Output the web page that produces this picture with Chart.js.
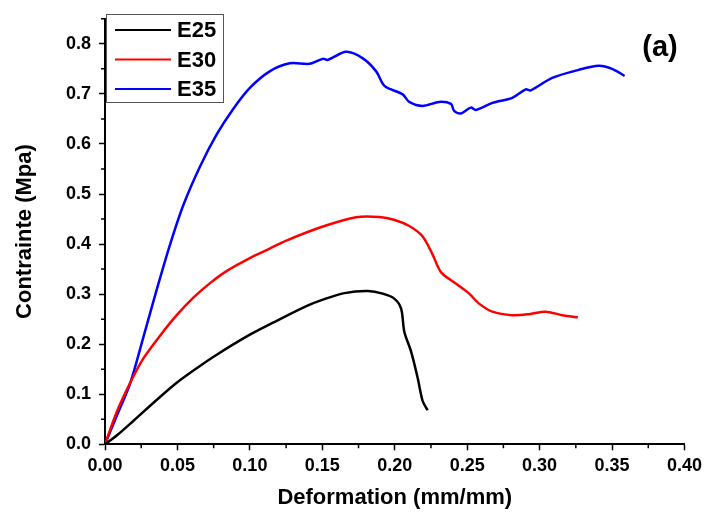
<!DOCTYPE html>
<html>
<head>
<meta charset="utf-8">
<script src="https://cdn.jsdelivr.net/npm/chart.js@4"></script>
<style>
  body { margin: 0; background: #fff; }
</style>
</head>
<body>
<canvas id="myChart" width="707" height="515"></canvas>
<script>
// tick labels
var xTicks = [0, 0.05, 0.10, 0.15, 0.20, 0.25, 0.30, 0.35, 0.40];
var yTicks = [0, 0.1, 0.2, 0.3, 0.4, 0.5, 0.6, 0.7, 0.8];

// E25 curve
var e25X = [0, 0.0083, 0.0197, 0.0358, 0.0495, 0.0633, 0.0771, 0.100, 0.116, 0.139, 0.1504, 0.1653, 0.1814, 0.1917, 0.1997, 0.2044, 0.2066, 0.2112, 0.2158, 0.2192, 0.2227];
var e25Y = [0, 0.018, 0.047, 0.089, 0.123, 0.152, 0.179, 0.219, 0.243, 0.276, 0.289, 0.302, 0.306, 0.301, 0.291, 0.271, 0.225, 0.186, 0.133, 0.087, 0.068];

// E30 curve
var e30X = [0, 0.0083, 0.0174, 0.0266, 0.038, 0.0495, 0.061, 0.0725, 0.0839, 0.100, 0.1137, 0.1252, 0.1504, 0.1734, 0.1894, 0.200, 0.210, 0.219, 0.226, 0.2319, 0.2422, 0.2514, 0.2582, 0.2674, 0.2811, 0.2926, 0.3041, 0.3156, 0.3264];
var e30Y = [0, 0.066, 0.123, 0.172, 0.217, 0.258, 0.293, 0.322, 0.346, 0.372, 0.391, 0.407, 0.435, 0.4536, 0.454, 0.448, 0.436, 0.416, 0.380, 0.344, 0.321, 0.301, 0.281, 0.265, 0.258, 0.260, 0.265, 0.258, 0.2537];

// E35 curve
var e35X = [0, 0.0083, 0.0174, 0.0266, 0.0358, 0.0449, 0.0541, 0.0656, 0.0771, 0.0885, 0.100, 0.1137, 0.1275, 0.1413, 0.1504, 0.1539, 0.1665, 0.178, 0.1872, 0.1929, 0.2055, 0.210, 0.2192, 0.2307, 0.2388, 0.241, 0.2456, 0.2525, 0.256, 0.2674, 0.2811, 0.2904, 0.2938, 0.3087, 0.327, 0.3408, 0.350, 0.3587];
var e35Y = [0, 0.058, 0.122, 0.215, 0.310, 0.399, 0.478, 0.555, 0.619, 0.670, 0.712, 0.745, 0.761, 0.760, 0.770, 0.768, 0.784, 0.771, 0.745, 0.716, 0.699, 0.684, 0.676, 0.684, 0.680, 0.666, 0.661, 0.6726, 0.668, 0.682, 0.692, 0.709, 0.707, 0.732, 0.748, 0.756, 0.750, 0.736];

var panelLabel = "(a)";

function pts(xs, ys) {
  return xs.map(function (x, i) { return { x: x, y: ys[i] }; });
}

var fontName = "'Liberation Sans', Arial, sans-serif";

// legend box, panel label and minor ticks
var extras = {
  id: 'extras',
  afterDraw: function (chart) {
    var ctx = chart.ctx;
    var xs = chart.scales.x, ys = chart.scales.y;
    ctx.save();
    ctx.strokeStyle = '#000';
    ctx.lineWidth = 1.5;
    ctx.beginPath();
    for (var v = 0.025; v < 0.4; v += 0.05) {
      var px = xs.getPixelForValue(v);
      ctx.moveTo(px, xs.top);
      ctx.lineTo(px, xs.top + 4);
    }
    for (var w = 0.05; w <= 0.86; w += 0.1) {
      var py = ys.getPixelForValue(w);
      ctx.moveTo(ys.right, py);
      ctx.lineTo(ys.right - 4, py);
    }
    ctx.stroke();

    // legend
    ctx.strokeStyle = '#555';
    ctx.lineWidth = 1;
    ctx.strokeRect(106.5, 14.5, 117, 88);
    ctx.font = 'bold 22px ' + fontName;
    ctx.textBaseline = 'middle';
    ctx.textAlign = 'left';
    chart.data.datasets.forEach(function (ds, i) {
      var y = 30 + i * 29.5;
      ctx.strokeStyle = ds.borderColor;
      ctx.lineWidth = 2;
      ctx.beginPath();
      ctx.moveTo(115, y);
      ctx.lineTo(171, y);
      ctx.stroke();
      ctx.fillStyle = '#000';
      ctx.fillText(ds.label, 177, y + 1);
    });

    ctx.font = 'bold 29px ' + fontName;
    ctx.textAlign = 'center';
    ctx.fillText(panelLabel, 660, 48);
    ctx.restore();
  }
};

new Chart(document.getElementById("myChart"), {
  type: 'line',
  data: {
    datasets: [
      { label: "E25", data: pts(e25X, e25Y), borderColor: "#000000" },
      { label: "E30", data: pts(e30X, e30Y), borderColor: "#ff0000" },
      { label: "E35", data: pts(e35X, e35Y), borderColor: "#0000ff" }
    ]
  },
  options: {
    responsive: false,
    animation: false,
    layout: { padding: { top: 14, right: 21, bottom: 0, left: 0 } },
    elements: {
      point: { radius: 0 },
      line: { borderWidth: 2.5, fill: false, tension: 0.3 }
    },
    plugins: { legend: { display: false }, tooltip: { enabled: false } },
    scales: {
      x: {
        type: 'linear',
        min: 0,
        max: 0.4,
        afterBuildTicks: function (s) { s.ticks = xTicks.map(function (v) { return { value: v }; }); },
        afterFit: function (s) { s.height = 70.7; },
        border: { color: '#000', width: 2 },
        grid: { drawOnChartArea: false, tickLength: 6, tickColor: '#000', tickWidth: 1.5 },
        ticks: {
          color: '#000',
          padding: 5,
          maxRotation: 0,
          font: { family: fontName, size: 18, weight: 'bold' },
          callback: function (v) { return v.toFixed(2); }
        },
        title: {
          display: true,
          text: "Deformation (mm/mm)",
          color: '#000',
          padding: { top: 0, bottom: 4 },
          font: { family: fontName, size: 22, weight: 'bold' }
        }
      },
      y: {
        min: 0,
        max: 0.85,
        afterBuildTicks: function (s) { s.ticks = yTicks.map(function (v) { return { value: v }; }); },
        afterFit: function (s) { s.width = 105; },
        border: { color: '#000', width: 2 },
        grid: { drawOnChartArea: false, tickLength: 6, tickColor: '#000', tickWidth: 1.5 },
        ticks: {
          color: '#000',
          padding: 8,
          font: { family: fontName, size: 18, weight: 'bold' },
          callback: function (v) { return v.toFixed(1); }
        },
        title: {
          display: true,
          text: "Contrainte (Mpa)",
          color: '#000',
          padding: { top: 12, bottom: 0 },
          font: { family: fontName, size: 22, weight: 'bold' }
        }
      }
    }
  },
  plugins: [extras]
});
</script>
</body>
</html>
